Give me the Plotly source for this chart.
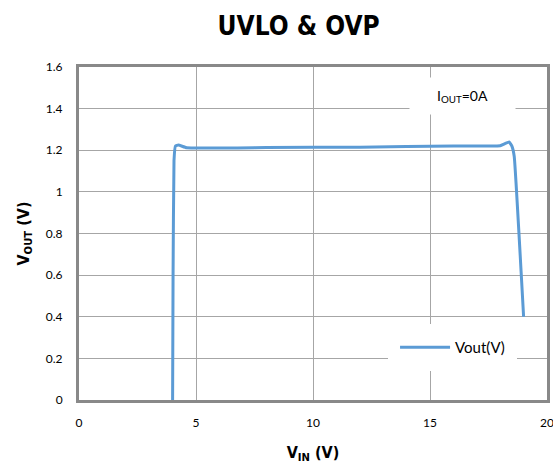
import plotly.graph_objects as go

vin = [4.0, 4.02, 4.06, 4.12, 4.25, 4.6, 8.0, 12.0, 16.0, 18.0, 18.2, 18.38, 18.5, 18.6, 19.0]
vout = [0.0, 0.6, 1.15, 1.22, 1.225, 1.212, 1.213, 1.215, 1.22, 1.222, 1.232, 1.24, 1.22, 1.17, 0.4]

x_ticks = [0, 5, 10, 15, 20]
y_ticks = [0, 0.2, 0.4, 0.6, 0.8, 1, 1.2, 1.4, 1.6]
y_labels = ["0", "0.2", "0.4", "0.6", "0.8", "1", "1.2", "1.4", "1.6"]

font_title = "DejaVu Sans Condensed, Liberation Sans Narrow, Arial Narrow, Arial"
font_tick = "Lato, Open Sans, Liberation Sans, Arial"

fig = go.Figure()
fig.add_trace(go.Scatter(
    x=vin, y=vout, mode="lines", name="Vout(V)",
    line=dict(color="#5B9BD5", width=3, shape="spline", smoothing=0.3),
))

fig.update_layout(
    width=553, height=465,
    margin=dict(l=79, r=6, t=67, b=65, autoexpand=False),
    paper_bgcolor="white", plot_bgcolor="white",
    title=dict(text="<b>UVLO & OVP</b>", x=0.54, xanchor="center", y=0.945, yanchor="middle",
               font=dict(family=font_title, size=26, color="black")),
    font=dict(family=font_tick, size=12, color="black"),
    showlegend=True,
    legend=dict(x=0.936, y=0.158, xanchor="right", yanchor="middle",
                bgcolor="white", bordercolor="white", borderwidth=7,
                font=dict(family=font_tick, size=15, color="black"),
                itemwidth=50),
)

fig.update_xaxes(
    range=[0, 20], tickvals=x_ticks, ticktext=[str(v) for v in x_ticks],
    showgrid=True, gridcolor="#A6A6A6", gridwidth=1,
    showline=True, linecolor="#898989", linewidth=3, mirror=True,
    ticks="", ticklabelstandoff=10, zeroline=False, automargin=False,
    ticklabeloverflow="allow",
    title=dict(text="<b>V<sub>IN</sub> (V)</b>", font=dict(family=font_title, size=16), standoff=18),
)
fig.update_yaxes(
    range=[0, 1.6], tickvals=y_ticks, ticktext=y_labels,
    showgrid=True, gridcolor="#A6A6A6", gridwidth=1,
    showline=True, linecolor="#898989", linewidth=3, mirror=True,
    ticks="", ticklabelstandoff=11, zeroline=False, automargin=False,
    title=dict(text="<b>V<sub>OUT</sub> (V)</b>", font=dict(family=font_title, size=16), standoff=13),
)

fig.add_annotation(
    x=0.819, y=0.913, xref="paper", yref="paper", xanchor="center", yanchor="middle",
    text="I<sub>OUT</sub>=0A", showarrow=False,
    bgcolor="white", width=103, height=34,
    font=dict(family=font_tick, size=14, color="black"),
)

fig.write_html("out.html", config={"displayModeBar": False},
               post_script="document.body.style.margin='0';")
